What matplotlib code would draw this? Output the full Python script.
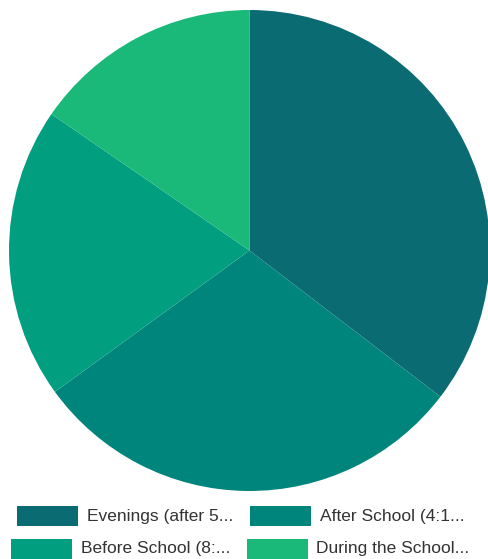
import matplotlib.pyplot as plt
from matplotlib.patches import Rectangle

labels = ["Evenings (after 5...", "After School (4:1...", "Before School (8:...", "During the School..."]
shares = [35.4, 29.6, 19.6, 15.4]
colors = ["#0a6b72", "#00857c", "#029e80", "#1ab97a"]

W, H = 488, 559
fig = plt.figure(figsize=(W / 100, H / 100), dpi=100)
plt.rcParams['font.family'] = ['Liberation Sans', 'DejaVu Sans']

# pie area in pixels: x 9..490, y 10..491 from top
ax = fig.add_axes([9 / W, (H - 491) / H, 481 / W, 481 / H])
ax.pie(shares, colors=colors, startangle=90, counterclock=False,
       radius=1, wedgeprops=dict(linewidth=0))
ax.set_xlim(-1, 1)
ax.set_ylim(-1, 1)
ax.set_aspect('equal')
ax.axis('off')

# legend drawn as two centered rows: (swatch x, text x, row center y) in pixels
legend_pos = [(17, 87, 516), (250, 320, 516), (11, 81, 549), (247, 316, 549)]
for (sx, tx, cy), lab, col in zip(legend_pos, labels, colors):
    fig.patches.append(Rectangle((sx / W, (H - cy - 10) / H), 61 / W, 20 / H,
                                 transform=fig.transFigure, facecolor=col,
                                 edgecolor='none'))
    fig.text(tx / W, (H - cy) / H, lab, fontsize=12.5, color='#333333',
             ha='left', va='center')

fig.savefig("out.png", dpi=100)
